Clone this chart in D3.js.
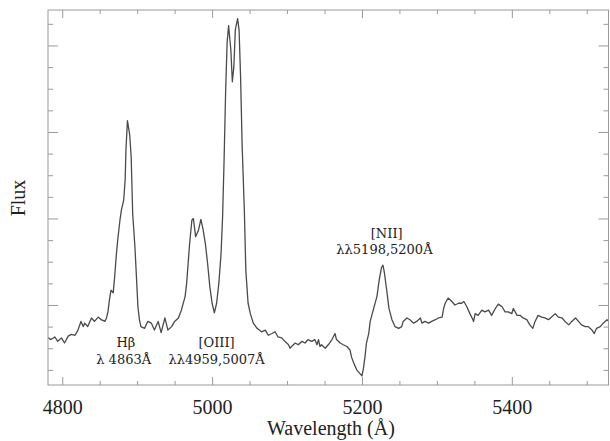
<!DOCTYPE html>
<html>
<head>
<meta charset="utf-8">
<script src="https://cdn.jsdelivr.net/npm/d3@7"></script>
<style>
  html, body { margin: 0; padding: 0; background: #fff; }
  svg { display: block; }
</style>
</head>
<body>
<svg id="chart" width="610" height="441"></svg>
<script>
// ---- Data ----
const wavelength = [4781,4785,4790,4794,4799,4803,4808,4812,4817,4821,4825,4828,4830,4834,4839,4843,4848,4852,4857,4859,
4861,4863,4865,4868,4870,4872,4874,4877,4879,4882,4884,4885,4887,4890,4892,4894,4897,4899,4901,4903,
4905,4910,4914,4919,4923,4928,4932,4937,4941,4946,4950,4955,4959,4964,4966,4968,4970,4973,4975,4978,
4982,4985,4988,4991,4994,4997,5000,5003,5006,5009,5012,5014,5016,5018,5020,5022,5025,5027,5029,5031,
5034,5036,5038,5040,5043,5045,5048,5051,5055,5060,5066,5071,5075,5080,5084,5088,5093,5097,5102,5104,
5106,5111,5115,5120,5124,5128,5133,5137,5140,5142,5144,5146,5151,5155,5160,5164,5166,5171,5175,5180,
5184,5186,5189,5193,5197,5200,5202,5204,5206,5209,5211,5215,5220,5223,5226,5228,5230,5233,5236,5240,
5244,5249,5253,5255,5260,5264,5269,5273,5278,5280,5284,5289,5293,5298,5302,5307,5309,5311,5315,5320,
5324,5329,5333,5336,5340,5344,5347,5349,5351,5355,5360,5364,5369,5373,5378,5382,5387,5391,5395,5400,
5402,5407,5411,5415,5420,5424,5428,5431,5435,5440,5444,5449,5453,5458,5462,5467,5471,5476,5480,5485,
5489,5493,5498,5502,5507,5510,5513,5518,5522,5527,5530];
const flux = [0.62,0.60,0.63,0.58,0.62,0.56,0.64,0.66,0.65,0.71,0.81,0.75,0.79,0.75,0.85,0.81,0.86,0.83,0.81,0.85,
0.92,1.06,1.17,1.14,1.33,1.56,1.75,1.98,2.10,2.21,2.45,2.79,3.13,2.97,2.71,2.06,1.67,1.33,0.98,0.83,
0.75,0.73,0.81,0.79,0.71,0.81,0.68,0.85,0.71,0.75,0.81,0.85,0.94,1.10,1.25,1.48,1.71,1.98,2.00,1.79,
1.87,1.99,1.87,1.71,1.48,1.21,1.02,0.91,1.02,1.25,1.60,2.02,2.68,3.45,4.03,4.23,3.95,3.58,3.75,4.18,
4.31,4.18,3.64,2.87,2.10,1.40,1.02,0.90,0.79,0.73,0.69,0.71,0.65,0.67,0.69,0.63,0.62,0.58,0.54,0.50,
0.52,0.56,0.54,0.58,0.56,0.60,0.58,0.60,0.54,0.60,0.52,0.54,0.50,0.54,0.60,0.67,0.60,0.56,0.54,0.52,
0.48,0.40,0.33,0.25,0.21,0.18,0.27,0.40,0.56,0.67,0.81,0.94,1.10,1.29,1.43,1.46,1.37,1.17,0.96,0.83,
0.75,0.73,0.75,0.81,0.85,0.83,0.79,0.81,0.85,0.79,0.81,0.79,0.81,0.83,0.85,0.86,0.96,1.02,1.08,1.04,
1.00,1.02,1.02,1.04,0.98,0.90,0.85,0.81,0.90,0.88,0.94,0.92,0.94,0.88,0.96,1.01,0.98,0.92,0.92,0.90,
0.96,0.88,0.88,0.85,0.83,0.77,0.73,0.81,0.88,0.86,0.85,0.83,0.86,0.90,0.86,0.85,0.81,0.77,0.81,0.85,
0.81,0.77,0.75,0.75,0.71,0.67,0.73,0.75,0.79,0.83,0.81];

const xMajorTicks = [4800, 5000, 5200, 5400];
const xMinorTicks = d3.range(4800, 5551, 50);
const yMajorTicks = [1, 2, 3, 4];
const yMinorTicks = d3.range(0.25, 4.41, 0.25);

const lineLabels = [
  { top: "H\u03B2",   bottom: "\u03BB 4863\u00C5" },
  { top: "[OIII]",    bottom: "\u03BB\u03BB4959,5007\u00C5" },
  { top: "[NII]",     bottom: "\u03BB\u03BB5198,5200\u00C5" }
];

// ---- Layout ----
const W = 610, H = 441;
const margin = { left: 48, top: 10, right: 1.5, bottom: 56 };
const x = d3.scaleLinear().domain([4781, 5529]).range([margin.left, W - margin.right]);
const y = d3.scaleLinear().domain([0.075, 4.41]).range([H - margin.bottom, margin.top]);
// label anchor positions (data units), separate from the data
const labelPos = [
  { xTop: 4885, yTop: 0.52, xBot: 4882, yBot: 0.32 },
  { xTop: 5006, yTop: 0.51, xBot: 5006, yBot: 0.32 },
  { xTop: 5233, yTop: 1.77, xBot: 5230, yBot: 1.59 }
];

const svg = d3.select("#chart");
const axisColor = "#9a9a9a";

svg.append("defs").append("clipPath").attr("id", "clip")
  .append("rect")
  .attr("x", margin.left).attr("y", margin.top)
  .attr("width", W - margin.right - margin.left)
  .attr("height", H - margin.bottom - margin.top);

const pts = wavelength.map((w, i) => [w, flux[i]]);
svg.append("path")
  .datum(pts)
  .attr("clip-path", "url(#clip)")
  .attr("fill", "none")
  .attr("stroke", "#4a4a4a")
  .attr("stroke-width", 1.3)
  .attr("stroke-linejoin", "round")
  .attr("d", d3.line().x(d => x(d[0])).y(d => y(d[1])));

function styleAxis(g) {
  g.select(".domain").remove();
  g.selectAll(".tick line").attr("stroke", axisColor);
}

const yBottom = H - margin.bottom, xRight = W - margin.right;
// bottom axis
svg.append("g").attr("transform", `translate(0,${yBottom})`)
  .call(d3.axisBottom(x).tickValues(xMinorTicks.filter(v => !xMajorTicks.includes(v))).tickSize(-4).tickFormat(""))
  .call(styleAxis);
svg.append("g").attr("transform", `translate(0,${yBottom})`)
  .call(d3.axisBottom(x).tickValues(xMajorTicks).tickSize(-8).tickPadding(15).tickFormat(d3.format("d")))
  .call(styleAxis)
  .call(g => g.selectAll("text").attr("font-family", "'Liberation Serif', 'Times New Roman', serif")
    .attr("font-size", 20).attr("fill", "#222"));
// top axis
svg.append("g").attr("transform", `translate(0,${margin.top})`)
  .call(d3.axisTop(x).tickValues(xMinorTicks.filter(v => !xMajorTicks.includes(v))).tickSize(-4).tickFormat(""))
  .call(styleAxis);
svg.append("g").attr("transform", `translate(0,${margin.top})`)
  .call(d3.axisTop(x).tickValues(xMajorTicks).tickSize(-8).tickFormat(""))
  .call(styleAxis);
// left axis
svg.append("g").attr("transform", `translate(${margin.left},0)`)
  .call(d3.axisLeft(y).tickValues(yMinorTicks.filter(v => !yMajorTicks.includes(v))).tickSize(-5).tickFormat(""))
  .call(styleAxis);
svg.append("g").attr("transform", `translate(${margin.left},0)`)
  .call(d3.axisLeft(y).tickValues(yMajorTicks).tickSize(-10).tickFormat(""))
  .call(styleAxis);
// right axis
svg.append("g").attr("transform", `translate(${xRight},0)`)
  .call(d3.axisRight(y).tickValues(yMinorTicks.filter(v => !yMajorTicks.includes(v))).tickSize(-5).tickFormat(""))
  .call(styleAxis);
svg.append("g").attr("transform", `translate(${xRight},0)`)
  .call(d3.axisRight(y).tickValues(yMajorTicks).tickSize(-10).tickFormat(""))
  .call(styleAxis);

// frame
svg.append("rect")
  .attr("x", margin.left).attr("y", margin.top)
  .attr("width", xRight - margin.left).attr("height", yBottom - margin.top)
  .attr("fill", "none").attr("stroke", axisColor).attr("stroke-width", 1);

// axis titles
const serif = "'Liberation Serif', 'Times New Roman', serif";
svg.append("text")
  .attr("x", 331).attr("y", 435)
  .attr("text-anchor", "middle")
  .attr("font-family", serif).attr("font-size", 20).attr("fill", "#222")
  .text("Wavelength (\u00C5)");
svg.append("text")
  .attr("transform", "translate(25,198) rotate(-90)")
  .attr("text-anchor", "middle")
  .attr("font-family", serif).attr("font-size", 20).attr("fill", "#222")
  .text("Flux");

// line annotations
const annoFont = "'DejaVu Serif', serif";
lineLabels.forEach((lab, i) => {
  const p = labelPos[i];
  svg.append("text")
    .attr("x", x(p.xTop)).attr("y", y(p.yTop))
    .attr("text-anchor", "middle")
    .attr("font-family", annoFont).attr("font-size", 13).attr("fill", "#222")
    .text(lab.top);
  svg.append("text")
    .attr("x", x(p.xBot)).attr("y", y(p.yBot))
    .attr("text-anchor", "middle")
    .attr("font-family", annoFont).attr("font-size", 13).attr("fill", "#222")
    .text(lab.bottom);
});
</script>
</body>
</html>
